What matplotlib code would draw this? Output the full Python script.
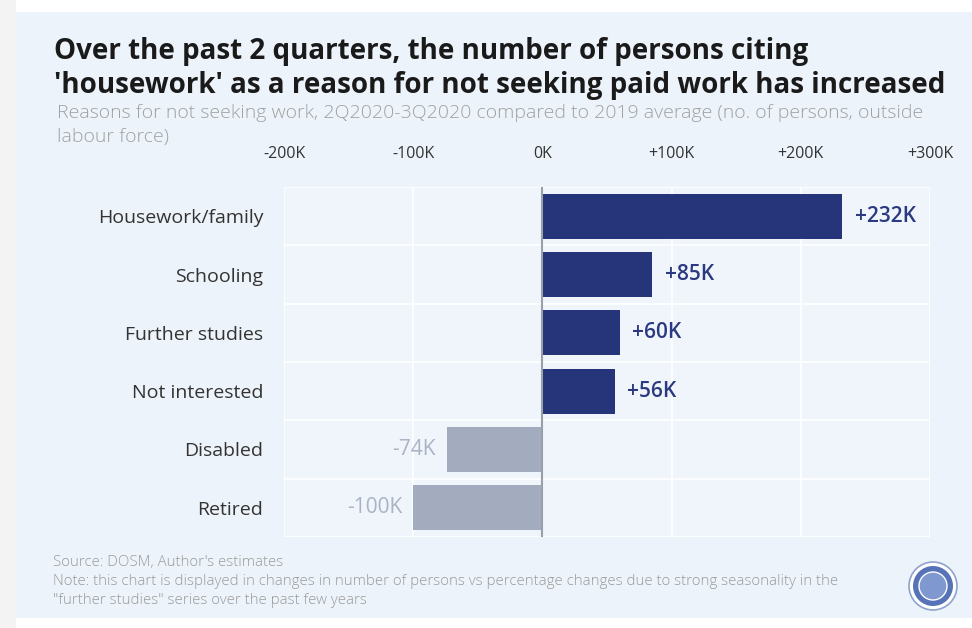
import numpy as np
import matplotlib.pyplot as plt
from matplotlib.patches import Rectangle, Circle
from matplotlib.font_manager import FontProperties

# data (thousands of persons)
categories = ["Housework/family", "Schooling", "Further studies",
              "Not interested", "Disabled", "Retired"]
values = [232, 85, 60, 56, -74, -100]
value_labels = ["+232K", "+85K", "+60K", "+56K", "-74K", "-100K"]
xticks = [-200, -100, 0, 100, 200, 300]
xtick_labels = ["-200K", "-100K", "0K", "+100K", "+200K", "+300K"]

W, H = 972, 628
PANEL = "#edf3fa"
NAVY = "#263579"
GREY_BAR = "#a3acbe"

plt.rcParams['font.family'] = ["Open Sans", "DejaVu Sans"]
title_fp = FontProperties(family="Open Sans", weight="bold", size=20)
light_fp = FontProperties(family="Open Sans", weight=300, size=14)
foot_fp = FontProperties(family="Open Sans", weight=300, size=10.8)

fig = plt.figure(figsize=(W / 100, H / 100), dpi=100)
fig.patch.set_facecolor("white")


def fx(x):
    return x / W


def fy(y):
    return 1 - y / H


# background panel
fig.patches.append(Rectangle((0, 0), fx(16), 1, transform=fig.transFigure,
                             facecolor="#f3f3f3", edgecolor="none", zorder=-3))
fig.patches.append(Rectangle((fx(16), fy(618)), fx(W - 16), fy(12) - fy(618),
                             transform=fig.transFigure, facecolor=PANEL,
                             edgecolor="none", zorder=-2))

# titles
fig.text(fx(54), fy(59), "Over the past 2 quarters, the number of persons citing",
         fontproperties=title_fp, color="#1a1a1a", va="baseline")
fig.text(fx(54), fy(93), "'housework' as a reason for not seeking paid work has increased",
         fontproperties=title_fp, color="#1a1a1a", va="baseline")
fig.text(fx(57), fy(118), "Reasons for not seeking work, 2Q2020-3Q2020 compared to 2019 average (no. of persons, outside",
         fontproperties=light_fp, color="#a0a0a0", va="baseline")
fig.text(fx(57), fy(142), "labour force)",
         fontproperties=light_fp, color="#a0a0a0", va="baseline")

# chart
ax = fig.add_axes([fx(284), fy(537), fx(930) - fx(284), fy(187) - fy(537)])
ax.set_facecolor("#f0f5fb")
y = np.arange(len(categories))
colors = [NAVY if v > 0 else GREY_BAR for v in values]
ax.barh(y, values, height=0.77, color=colors, zorder=3)

ax.set_xlim(-200, 300)
ax.set_ylim(len(categories) - 0.5, -0.5)
ax.set_xticks(xticks)
ax.set_xticklabels(xtick_labels, fontsize=11.5, color="#333333")
ax.xaxis.tick_top()
ax.tick_params(axis="x", length=0, pad=18)
ax.set_yticks(y)
ax.set_yticklabels(categories, fontsize=14, color="#333333")
ax.tick_params(axis="y", length=0, pad=15)

# grid: vertical at ticks, horizontal between rows
for t in xticks:
    ax.axvline(t, color="white", lw=1.2, zorder=1)
for b in np.arange(len(categories) + 1) - 0.5:
    ax.axhline(b, color="white", lw=1.2, zorder=1)
ax.axvline(0, color="#9aa0aa", lw=1.5, zorder=4)
for s in ax.spines.values():
    s.set_visible(False)

for yi, v, lab in zip(y, values, value_labels):
    if v > 0:
        ax.annotate(lab, (v, yi), xytext=(9, 0), textcoords="offset points",
                    ha="left", va="center", fontsize=15, fontweight=600,
                    color="#2b3a80")
    else:
        ax.annotate(lab, (v, yi), xytext=(-8, 0), textcoords="offset points",
                    ha="right", va="center", fontsize=15, color="#aab3c5")

# footer
fig.text(fx(53), fy(566), "Source: DOSM, Author's estimates",
         fontproperties=foot_fp, color="#9a9a9a", va="baseline")
fig.text(fx(53), fy(585), "Note: this chart is displayed in changes in number of persons vs percentage changes due to strong seasonality in the",
         fontproperties=foot_fp, color="#9a9a9a", va="baseline")
fig.text(fx(53), fy(604), "\"further studies\" series over the past few years",
         fontproperties=foot_fp, color="#9a9a9a", va="baseline")

# logo placeholder
cx, cy = 9.33, (H - 586) / 100
fig.patches.append(Circle((cx, cy), 0.24, transform=fig.dpi_scale_trans,
                          facecolor="white", edgecolor="#8fa3cf", lw=1.2))
fig.patches.append(Circle((cx, cy), 0.20, transform=fig.dpi_scale_trans,
                          facecolor="#5673b8", edgecolor="none"))
fig.patches.append(Circle((cx, cy), 0.14, transform=fig.dpi_scale_trans,
                          facecolor="#7f98cf", edgecolor="white", lw=1))

fig.savefig("out.png", dpi=100)
